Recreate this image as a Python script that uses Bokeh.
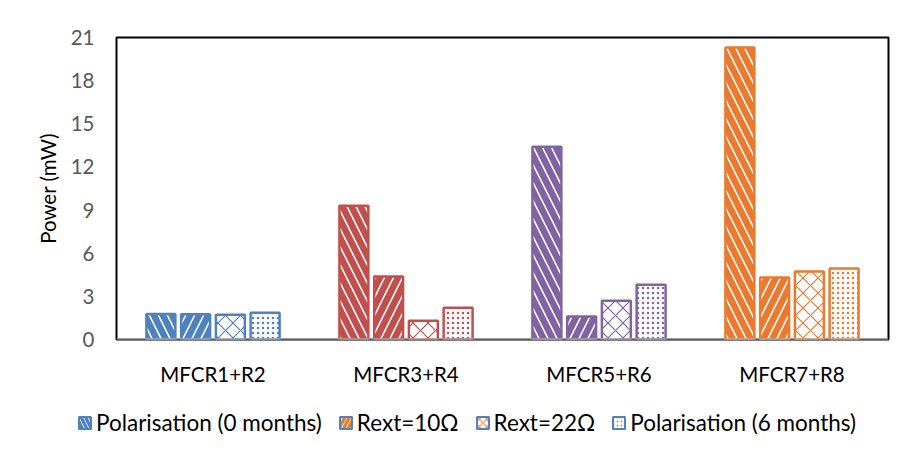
from bokeh.plotting import figure
from bokeh.layouts import column
from bokeh.models import (ColumnDataSource, FactorRange, Legend, LegendItem,
                          FixedTicker, Span, Range1d)
from bokeh.transform import dodge
from bokeh.embed import file_html
from bokeh.resources import INLINE

# Groups (reactor pairs) and the four measured series, power in mW
groups = ["MFCR1+R2", "MFCR3+R4", "MFCR5+R6", "MFCR7+R8"]
group_colors = ["#4F81BD", "#C0504D", "#8064A2", "#EA7A2F"]

series_names = ["Polarisation (0 months)", "Rext=10Ω", "Rext=22Ω",
                "Polarisation (6 months)"]
pol_0_months = [1.78, 9.3, 13.4, 20.3]
rext_10 = [1.76, 4.38, 1.6, 4.31]
rext_22 = [1.72, 1.3, 2.7, 4.73]
pol_6_months = [1.86, 2.2, 3.8, 4.94]

y_ticks = [0, 3, 6, 9, 12, 15, 18, 21]

FONT = "Lato"
FS = "20.5px"
LEGEND_FS = "22.5px"

p = figure(width=907, height=390, x_range=FactorRange(*groups),
           y_range=(0, 21), output_backend="svg", toolbar_location=None,
           min_border_left=116, min_border_right=19,
           min_border_top=37, min_border_bottom=51)
p.frame_align = False
p.background_fill_color = "white"
p.border_fill_color = "white"
p.outline_line_color = "black"
p.outline_line_width = 2
p.grid.visible = False

# bar styling per series: hatch pattern, weight, scale
styles = [("\\", 6.5, 18), ("/", 6.5, 18), ("x", 1.2, 15), (".", 1.8, 5)]
offsets = [-0.27, -0.09, 0.09, 0.27]
values = [pol_0_months, rext_10, rext_22, pol_6_months]

for vals, off, (pat, hw, hs) in zip(values, offsets, styles):
    src = ColumnDataSource(dict(group=groups, top=vals, color=group_colors))
    p.vbar(x=dodge("group", off, range=p.x_range), top="top", width=0.15,
           source=src, fill_color="white", line_color="color", line_width=2.5,
           hatch_pattern=pat, hatch_color="color", hatch_weight=hw,
           hatch_scale=hs)

# baseline
p.add_layout(Span(location=0, dimension="width", line_color="#BFBFBF",
                  line_width=2))

# y axis
p.yaxis.ticker = FixedTicker(ticks=y_ticks)
p.yaxis.axis_line_color = None
p.yaxis.major_tick_line_color = None
p.yaxis.minor_tick_line_color = None
p.yaxis.major_label_standoff = 16
p.yaxis.major_label_text_font = FONT
p.yaxis.major_label_text_font_size = FS
p.yaxis.major_label_text_color = "#595959"
p.yaxis.axis_label = "Power (mW)"
p.yaxis.axis_label_text_font = FONT
p.yaxis.axis_label_text_font_size = FS
p.yaxis.axis_label_text_font_style = "normal"
p.yaxis.axis_label_text_color = "black"
p.yaxis.axis_label_standoff = 8

# x axis
p.xaxis.axis_line_color = None
p.xaxis.major_tick_line_color = None
p.xaxis.minor_tick_line_color = None
p.xaxis.major_label_standoff = 16
p.xaxis.major_label_text_font = FONT
p.xaxis.major_label_text_font_size = FS
p.xaxis.major_label_text_color = "black"

# legend strip underneath the chart
lg = figure(width=907, height=66, output_backend="svg", toolbar_location=None,
            x_range=Range1d(0, 1), y_range=Range1d(0, 1),
            x_axis_location=None, y_axis_location=None,
            min_border_left=0, min_border_right=0, min_border_top=0,
            min_border_bottom=0)
lg.frame_align = False
lg.grid.visible = False
lg.outline_line_color = None
lg.border_fill_color = "white"
lg.background_fill_color = "white"

# zero-size swatch renderers: they only feed the legend glyphs
legend_hatch = ["#4F81BD", "#EA7A2F", "#EA7A2F", "#EA7A2F"]
items = []
for name, (pat, hw, hs), hc in zip(series_names, styles, legend_hatch):
    r = lg.vbar(x=[0.995], top=[0.5], bottom=[0.5], width=0,
                fill_color="white", line_color="#4F81BD", line_width=2,
                hatch_pattern=pat, hatch_color=hc,
                hatch_weight=max(hw * 0.5, 1), hatch_scale=max(hs * 0.5, 4))
    items.append(LegendItem(label=name, renderers=[r]))

legend = Legend(items=items, orientation="horizontal",
                location=(77, 20), border_line_color=None,
                background_fill_alpha=0, glyph_width=15, glyph_height=15,
                label_standoff=4, spacing=16, padding=0, margin=0,
                label_text_font=FONT, label_text_font_size=LEGEND_FS,
                label_text_color="black")
lg.add_layout(legend, "center")

layout = column(p, lg, spacing=0)
open("out.html", "w").write(file_html(layout, INLINE))
